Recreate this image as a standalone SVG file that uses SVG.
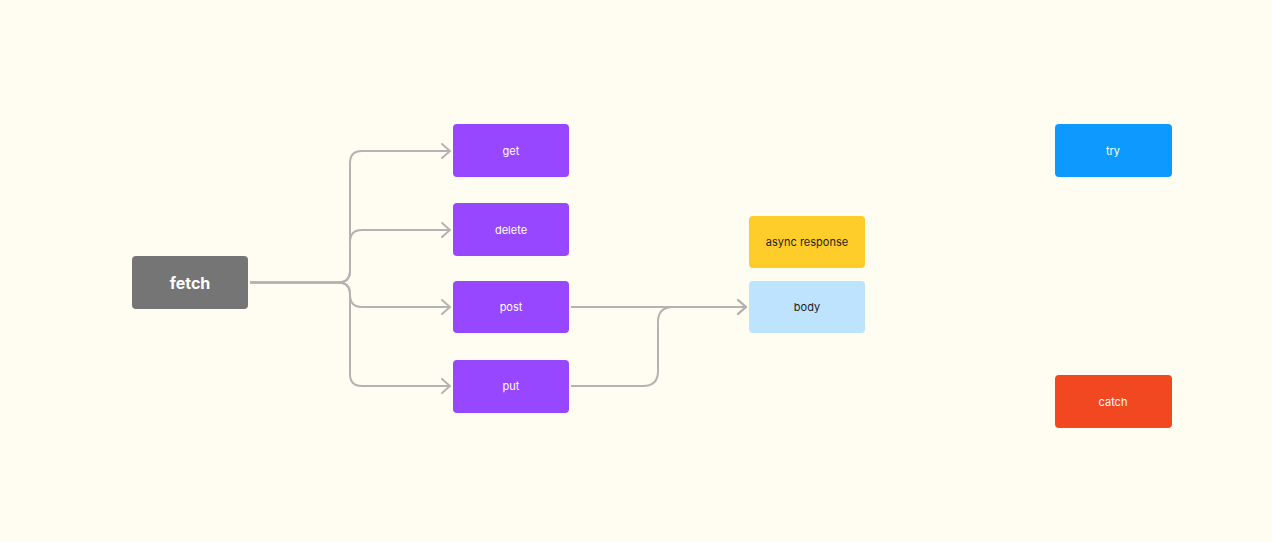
<svg xmlns="http://www.w3.org/2000/svg" width="1272" height="542" viewBox="0 0 1272 542">
<defs>
<marker id="arr" viewBox="0 0 10 16" markerWidth="10" markerHeight="16" refX="9" refY="8" orient="auto" markerUnits="userSpaceOnUse">
<path d="M1,1 L9,8 L1,15" fill="none" stroke="#b3b3b3" stroke-width="2" stroke-linecap="round" stroke-linejoin="round"/>
</marker>
<style>
.n rect{rx:4;ry:4}
.t{font-family:Inter,"Noto Sans","Liberation Sans",sans-serif;font-size:11px;text-anchor:middle;dominant-baseline:central}
.w{fill:#ffffff}
.d{fill:#1e1e1e}
.c{fill:none;stroke:#b3b3b3;stroke-width:2}
</style>
</defs>
<rect width="1272" height="542" fill="#fffcf2"/>
<g id="connectors">
<path class="c" marker-end="url(#arr)" d="M250,282.5 H338 Q350,282.5 350,270.5 V163 Q350,151 362,151 H450"/>
<path class="c" marker-end="url(#arr)" d="M250,282.5 H338 Q350,282.5 350,270.5 V242 Q350,230 362,230 H450"/>
<path class="c" marker-end="url(#arr)" d="M250,282.5 H338 Q350,282.5 350,294.5 Q350,307 362,307 H450"/>
<path class="c" marker-end="url(#arr)" d="M250,282.5 H338 Q350,282.5 350,294.5 V374 Q350,386 362,386 H450"/>
<path class="c" marker-end="url(#arr)" d="M571,307 H746"/>
<path class="c" marker-end="url(#arr)" d="M571,386 H643 Q658,386 658,371 V322 Q658,307 673,307 H746"/>
</g>
<g id="fetch" class="n"><rect x="132" y="256" width="116" height="53" fill="#757575"/><text class="t w" x="190" y="283" style="font-size:16px;font-weight:700">fetch</text></g>
<g id="get" class="n"><rect x="453" y="124" width="116" height="53" fill="#9747ff"/><text class="t w" x="511" y="151">get</text></g>
<g id="delete" class="n"><rect x="453" y="203" width="116" height="53" fill="#9747ff"/><text class="t w" x="511" y="230">delete</text></g>
<g id="post" class="n"><rect x="453" y="281" width="116" height="52" fill="#9747ff"/><text class="t w" x="511" y="307">post</text></g>
<g id="put" class="n"><rect x="453" y="360" width="116" height="53" fill="#9747ff"/><text class="t w" x="511" y="386">put</text></g>
<g id="async-response" class="n"><rect x="749" y="216" width="116" height="52" fill="#ffcd29"/><text class="t d" x="807" y="242">async response</text></g>
<g id="body" class="n"><rect x="749" y="281" width="116" height="52" fill="#bde3ff"/><text class="t d" x="807" y="307">body</text></g>
<g id="try" class="n"><rect x="1055" y="124" width="117" height="53" fill="#0d99ff"/><text class="t w" x="1113" y="151">try</text></g>
<g id="catch" class="n"><rect x="1055" y="375" width="117" height="53" fill="#f24822"/><text class="t w" x="1113" y="402">catch</text></g>
</svg>
